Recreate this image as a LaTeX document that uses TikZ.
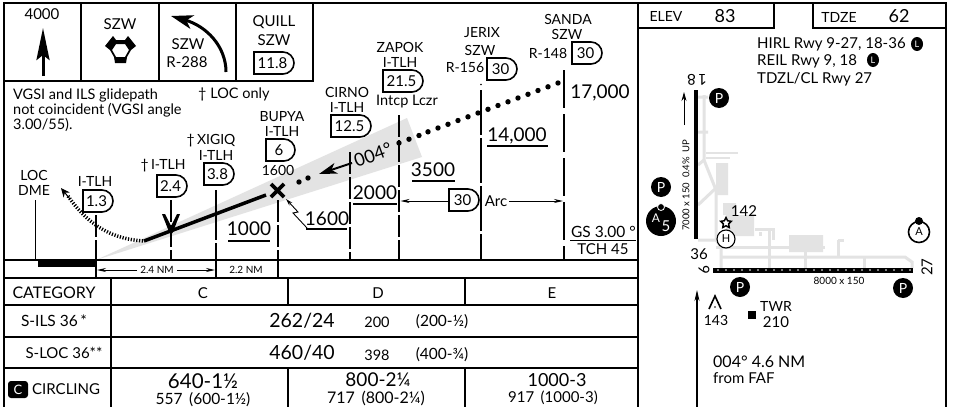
\documentclass[tikz,border=0pt]{standalone}
\usepackage{fontspec}
\setmainfont{Lato}
\usetikzlibrary{arrows.meta,shapes.geometric}
\newcommand{\fz}[1]{\fontsize{#1}{#1}\selectfont}
\tikzset{
 x=1pt,y=-1pt,
 lab/.style={inner sep=0pt,font=\fz{14.5}},
 big/.style={inner sep=0pt,font=\fz{19.5}},
 small/.style={inner sep=0pt,font=\fz{10}},
 frameline/.style={line width=1.6pt,black},
 grid/.style={line width=1.4pt,black},
 fixline/.style={line width=1.2pt,black,dash pattern=on 22pt off 3pt},
 dmebox/.style={line width=1.6pt,fill=white,draw=black},
 ul/.style={line width=1.4pt},
 thinarrow/.style={line width=.9pt,-{Stealth[length=9pt,width=4pt]}},
 taxi/.style={line width=3pt,draw=taxigray,line cap=butt},
 pcirc/.style={circle,fill=black,text=white,inner sep=0pt,minimum size=20pt,font=\fz{14}},
 lcirc/.style={ellipse,fill=black,text=white,inner sep=0pt,minimum width=12pt,minimum height=14pt,font=\fz{9}},
 wcirc/.style={circle,draw=black,fill=white,inner sep=0pt,font=\fz{11}},
}
\definecolor{taxigray}{gray}{0.89}
\newcommand{\dme}[5]{%
 \draw[dmebox] (#2,#3) -- ++({#4-11},0) .. controls +(6,0) and +(0,-6) .. ++(11,11) .. controls +(0,6) and +(6,0) .. ++(-11,11) -- ++({11-#4},0) -- cycle;
 \node[lab,font=\fz{15}] (#1) at ({#2+(#4-3)/2},{#3+11}) {#5};}
\begin{document}
\begin{tikzpicture}
\useasboundingbox[fill=white] (0,0) rectangle (956,407);
% wedge
\fill[taxigray] (96,260) -- (407,118) -- (422,157) -- cycle;
% frame
\draw[frameline] (4,407) -- (4,3) -- (946,3) -- (946,407);
\draw[frameline] (638,3) -- (638,407);
\draw[grid] (4,81) -- (313,81) -- (313,3);
\draw[grid] (81,3) -- (81,81) (159,3) -- (159,81) (236,3) -- (236,81);
\draw[grid] (4,260) -- (638,260) (4,278) -- (638,278) (4,305) -- (638,305) (4,337) -- (638,337) (4,368) -- (638,368);
\draw[grid] (111,278) -- (111,407) (288,278) -- (288,305) (288,368) -- (288,407) (465,278) -- (465,305) (465,368) -- (465,407);
\draw[grid] (96,260) -- (96,278) (216,260) -- (216,278) (278,260) -- (278,278);
% missed approach icons
\node[lab,font=\fz{15}] (alt) at (42,14) {4000};
\coordinate (altbase) at (43,76);
\coordinate (alttip) at (43,28);
\draw[line width=3pt,-{Stealth[length=32pt,width=13pt,inset=5pt]}] (altbase) -- (alttip);
\node[lab,font=\fz{15}] (szw1) at (120,24) {SZW};
\fill[even odd rule] (113,36) -- (116,40) -- (125,40) -- (128,36) -- (136,46) -- (131,50) -- (127,57) -- (126,63) -- (115,63) -- (114,57) -- (110,50) -- (105,46) -- cycle
 (116,44) -- (125,44) -- (129,50) -- (125,57) -- (116,57) -- (112,50) -- cycle;
\coordinate (curvestart) at (226,72);
\coordinate (curvetip) at (171,16);
\draw[line width=3pt,-{Stealth[length=22pt,width=14pt,inset=6pt]}] (curvestart) .. controls (226,46) and (206,26) .. (curvetip);
\node[lab,font=\fz{15}] (szw2) at (188,44) {SZW};
\node[lab,font=\fz{15}] (r288) at (187,62) {R-288};
\node[lab,font=\fz{15}] (quill) at (274,22) {QUILL};
\node[lab,font=\fz{15}] (szw3) at (274,40) {SZW};
\dme{q118}{254}{52}{40}{11.8}
% notes
\node[lab,anchor=west] (n1) at (13,95) {VGSI and ILS glidepath};
\node[lab,anchor=west] (n2) at (13,110) {not coincident (VGSI angle};
\node[lab,anchor=west] (n3) at (13,125) {3.00/55).};
\node[lab,anchor=west] (locnote) at (198,94) {† LOC only};
% fix verticals
\draw[line width=1.2pt] (35.5,200) -- (35.5,260);
\draw[fixline] (96,215) -- (96,260);
\draw[fixline] (171,200) -- (171,260);
\draw[fixline,dash pattern=on 50pt off 3pt] (216,190) -- (216,260);
\draw[fixline] (278,200) -- (278,260);
\draw[fixline] (350,152) -- (350,260);
\draw[fixline] (399,115) -- (399,260);
\draw[fixline,dash pattern=on 45pt off 3pt] (481,90) -- (481,260);
\draw[fixline,dash pattern=on 38pt off 6pt] (564,70) -- (564,260);
\fill (481,84.5) circle (.8pt);
\fill (38,260) rectangle (96,267);
% profile
\draw[line width=3.5pt] (144,241) -- (266,195);
\draw[line width=3.5pt,dash pattern=on 1.2pt off 1.6pt] (143,241) .. controls (115,239) and (90,228) .. (68,196);
\draw[line width=1pt,-{Stealth[length=9pt,width=8pt]}] (70,199) -- (61,188);
\fill (165,214) -- (171,226) -- (177,214) -- (180,214) -- (172.5,233) -- (169.5,233) -- (162,214) -- cycle;
% FAF cross
\draw[line width=3.6pt] (271,184) -- (284,197) (284,184) -- (271,197);
\foreach \px/\py in {299/182,308/178,399/143,409/139.2,419/135.5,428/131.8,438/128,448/124.3,458/120.5,468/116.8,478/113,488/109.3,498/105.5,508/101.8,518/98,528/94.3,538/90.5,548/86.8,558/83}
 \fill (\px,\py) circle (2.7pt);
% inbound arrow
\coordinate (inb1) at (352,163);
\coordinate (inb2) at (319,174);
\draw[line width=2pt,-{Stealth[length=18pt,width=11pt,inset=5pt]}] (inb1) -- (inb2);
\node[lab,font=\fz{18},rotate=20] (crs) at (373,155) {004°};
% fixes
\node[lab,font=\fz{14}] (loc) at (34,175) {LOC};
\node[lab,font=\fz{14}] (dmeT) at (34,190) {DME};
\node[lab,font=\fz{14}] (it13) at (95,181) {I-TLH};
\dme{f13}{83}{190}{30}{1.3}
\node[lab,font=\fz{14}] (it24) at (163,166) {†\,I-TLH};
\dme{f24}{157}{175}{30}{2.4}
\node[lab,font=\fz{14}] (xig) at (211,141) {†\,XIGIQ};
\node[lab,font=\fz{14}] (it38) at (216,155) {I-TLH};
\dme{f38}{204}{163}{30}{3.8}
\node[lab,font=\fz{14}] (bup) at (282,117) {BUPYA};
\node[lab,font=\fz{14}] (it6) at (282,131) {I-TLH};
\dme{f6}{266}{139}{29}{6}
\node[lab,font=\fz{14}] (a1600) at (278,170) {1600};
\node[lab,font=\fz{14}] (cir) at (347,92) {CIRNO};
\node[lab,font=\fz{14}] (it125) at (347,107) {I-TLH};
\dme{f125}{331}{115}{40}{12.5}
\node[lab,font=\fz{14}] (zap) at (400,47) {ZAPOK};
\node[lab,font=\fz{14}] (it215) at (400,62) {I-TLH};
\dme{f215}{383}{70}{40}{21.5}
\node[lab,font=\fz{14.5}] (int) at (407,102) {Intcp Lczr};
\node[lab,font=\fz{14}] (jer) at (482,33) {JERIX};
\node[lab,font=\fz{14}] (szwj) at (480,50) {SZW};
\node[lab,font=\fz{14}] (r156) at (465,68) {R-156};
\dme{f30a}{487}{58}{30}{30}
\node[lab,font=\fz{14}] (san) at (568,19) {SANDA};
\node[lab,font=\fz{14}] (szws) at (567,34) {SZW};
\node[lab,font=\fz{14}] (r148) at (548,53) {R-148};
\dme{f30b}{572}{42}{30}{30}
% altitudes
\node[lab,font=\fz{19}] (a17000) at (600,93) {17,000};
\node[lab,font=\fz{19}] (a14000) at (517,136) {14,000};
\draw[ul] (487,146) -- (548,146);
\node[lab,font=\fz{19}] (a3500) at (433,170) {3500};
\draw[ul] (412,181) -- (455,181);
\node[lab,font=\fz{19}] (a2000) at (375,193) {2000};
\draw[ul] (353,204) -- (397,204);
\node[lab,font=\fz{19}] (a1600b) at (327,219) {1600};
\draw[ul] (306,229) -- (347,229);
\node[lab,font=\fz{19}] (a1000) at (249,229) {1000};
\draw[ul] (228,241) -- (270,241);
\draw[line width=.9pt,-{Stealth[length=7pt,width=4pt]}] (307,228) -- (293,213) -- (298,212) -- (286,199);
% arc
\dme{arc30}{449}{189}{30}{30}
\node[lab,font=\fz{15}] (arc) at (496,201) {Arc};
\coordinate (arcL) at (448,201);
\coordinate (arcLtip) at (400.5,201);
\coordinate (arcRtip) at (563,201);
\draw[thinarrow] (arcL) -- (arcLtip);
\draw[thinarrow] (arc.east) ++(2,0) -- (arcRtip);
% GS
\node[lab,font=\fz{15.5},anchor=east] (gs) at (636,232) {GS 3.00 °};
\draw[line width=1pt] (570,240) -- (636,240);
\node[lab,font=\fz{15}] (tch) at (603,249) {TCH 45};
% distances
\node[small] (d24) at (157,270) {2.4 NM};
\node[small] (d22) at (246,270) {2.2 NM};
\coordinate (d24L) at (97,270);
\coordinate (d24R) at (215,270);
\draw[thinarrow] (d24.west) ++(-3,0) -- (d24L);
\draw[thinarrow] (d24.east) ++(3,0) -- (d24R);
% table
\node[lab,font=\fz{16}] (cat) at (54,293) {CATEGORY};
\node[lab,font=\fz{15}] (cC) at (203,293) {C};
\node[lab,font=\fz{15}] (cD) at (378,293) {D};
\node[lab,font=\fz{15}] (cE) at (552,293) {E};
\node[lab,font=\fz{15.5}] (ils) at (54,321) {S-ILS 36\,*};
\node[big] (m1) at (302,321) {262/24};
\node[lab] (m2) at (377,322) {200};
\node[lab,font=\fz{15.5}] (m3) at (442,322) {(200-½)};
\node[lab,font=\fz{15}] (loc2) at (64,353) {S-LOC 36**};
\node[big] (m4) at (302,353) {460/40};
\node[lab] (m5) at (377,355) {398};
\node[lab,font=\fz{15.5}] (m6) at (442,355) {(400-¾)};
\node[fill=black,text=white,rounded corners=3pt,inner sep=0pt,minimum width=20pt,minimum height=17pt,font=\fz{13}] (cbox) at (18,389.5) {C};
\node[lab,font=\fz{15},anchor=west] (circ) at (32,389) {CIRCLING};
\node[big,font=\fz{20.5}] (c1) at (203,381) {640-1½};
\node[lab,font=\fz{15.5}] (c2) at (203,400) {557 \,(600-1½)};
\node[big,font=\fz{19}] (d1) at (378,380) {800-2¼};
\node[lab,font=\fz{16}] (d2) at (376,398) {717 \,(800-2¼)};
\node[big,font=\fz{18}] (e1) at (557,380) {1000-3};
\node[lab,font=\fz{15}] (e2) at (553,398) {917 \,(1000-3)};
% plan header
\draw[grid] (638,28) -- (774,28) -- (774,3) (813,3) -- (813,28) -- (946,28);
\node[lab,font=\fz{14}] (elev) at (666,16) {ELEV};
\node[lab,font=\fz{18}] (e83) at (725,16) {83};
\node[lab,font=\fz{14}] (tdze) at (839,17) {TDZE};
\node[lab,font=\fz{18}] (t62) at (899,16) {62};
\node[lab,anchor=west,font=\fz{15}] (hirl) at (757,44) {HIRL Rwy 9-27, 18-36};
\node[lab,anchor=west,font=\fz{15}] (reil) at (757,61) {REIL Rwy 9, 18};
\node[lab,anchor=west,font=\fz{15}] (tdzl) at (757,79) {TDZL/CL Rwy 27};
\node[lcirc] (l1) at (917,44) {L};
\node[lcirc] (l2) at (873,60) {L};
% taxiways and aprons
\begin{scope}[draw=taxigray]
\draw[taxi] (704,95) -- (704,160) -- (716,190) -- (716,240) -- (721,247) -- (721,268);
\draw[taxi] (698,97) -- (708,97) (698,132) -- (708,132) (698,165) -- (704,160) (698,205) -- (716,188) (698,240) -- (716,240);
\draw[taxi,line width=2pt] (706,153) -- (738,153) (706,158) -- (730,158);
\fill[taxigray] (716,163) rectangle (728,195) (723,203) rectangle (736,215) (726,215) rectangle (754,236) (789,235) rectangle (823,252);
\draw[taxi] (716,247) -- (825,247);
\draw[taxi] (722,257) -- (905,257) -- (912,262) -- (912,268);
\draw[taxi] (769,228) -- (769,268) (805,247) -- (805,268) (864,257) -- (864,268);
\draw[taxi] (755,229) -- (773,229) -- (773,240) (760,232) -- (760,236);
\draw[taxi] (838,240) -- (838,257) (838,240) -- (844,240);
\end{scope}
% runways
\draw[line width=3.5pt] (696,90) -- (696,239);
\fill (713,267.5) rectangle (913,272.5);
\foreach \k in {0,...,24} \fill[white] ({718+8*\k},270) circle (.8pt);
\node[lab,font=\fz{15},rotate=180] (r18) at (697,80) {1\,8};
\node[lab,font=\fz{15}] (r36) at (699,254) {36};
\node[lab,font=\fz{15},rotate=-90] (r9) at (704,270) {9};
\node[lab,font=\fz{15},rotate=90] (r27) at (927,267) {27};
\node[small,rotate=90,anchor=west,font=\fz{9.5}] (rw1) at (686,231) {7000 x 150\enspace 0.4\%\enspace UP};
\coordinate (uparrow) at (684,92);
\coordinate (upbase) at (684,125);
\draw[line width=.9pt,-{Stealth[length=9pt,width=5pt]}] (upbase) -- (uparrow);
\node[small] (rw2) at (839,281) {8000 x 150};
\node[pcirc] (p1) at (719,98) {P};
\node[pcirc] (p2) at (661,187) {P};
\node[pcirc] (p3) at (740,287) {P};
\node[pcirc] (p4) at (903,288) {P};
\fill (661,221) circle (15pt);
\filldraw[draw=white,line width=.8pt,fill=black] (661,207) circle (3.5pt);
\node[lab,text=white,font=\fz{12}] (a5a) at (656,218) {A};
\node[lab,text=white,font=\fz{15}] (a5b) at (666,226) {5};
\node[wcirc,line width=1.6pt,minimum size=21pt] (acirc) at (919,232) {A};
\fill (919,221) circle (4pt);
\node[star,star points=5,star point ratio=2,draw=black,fill=white,line width=1.5pt,minimum size=11pt,inner sep=0pt] (arp) at (726,223) {};
\node[wcirc,line width=1.1pt,minimum size=18pt] (heli) at (726,239) {H};
\node[lab,font=\fz{15}] (e142) at (744,211) {142};
% plan bottom
\coordinate (ptip) at (697,290);
\coordinate (pbase) at (697,407);
\draw[line width=1.1pt,-{Stealth[length=11pt,width=5pt]}] (pbase) -- (ptip);
\draw[line width=1.6pt] (709,309) -- (715,296) -- (721,309);
\fill (715,307) circle (.8pt);
\node[lab,font=\fz{14}] (o143) at (716,320) {143};
\fill (748,311) rectangle (756,319);
\node[lab,font=\fz{14}] (twr) at (776,306) {TWR};
\node[lab,font=\fz{15}] (t210) at (776,322) {210};
\node[lab,font=\fz{16},anchor=west] (brg) at (713,362) {004° 4.6 NM};
\node[lab,font=\fz{15},anchor=west] (faf) at (713,378) {from FAF};
\end{tikzpicture}
\end{document}
